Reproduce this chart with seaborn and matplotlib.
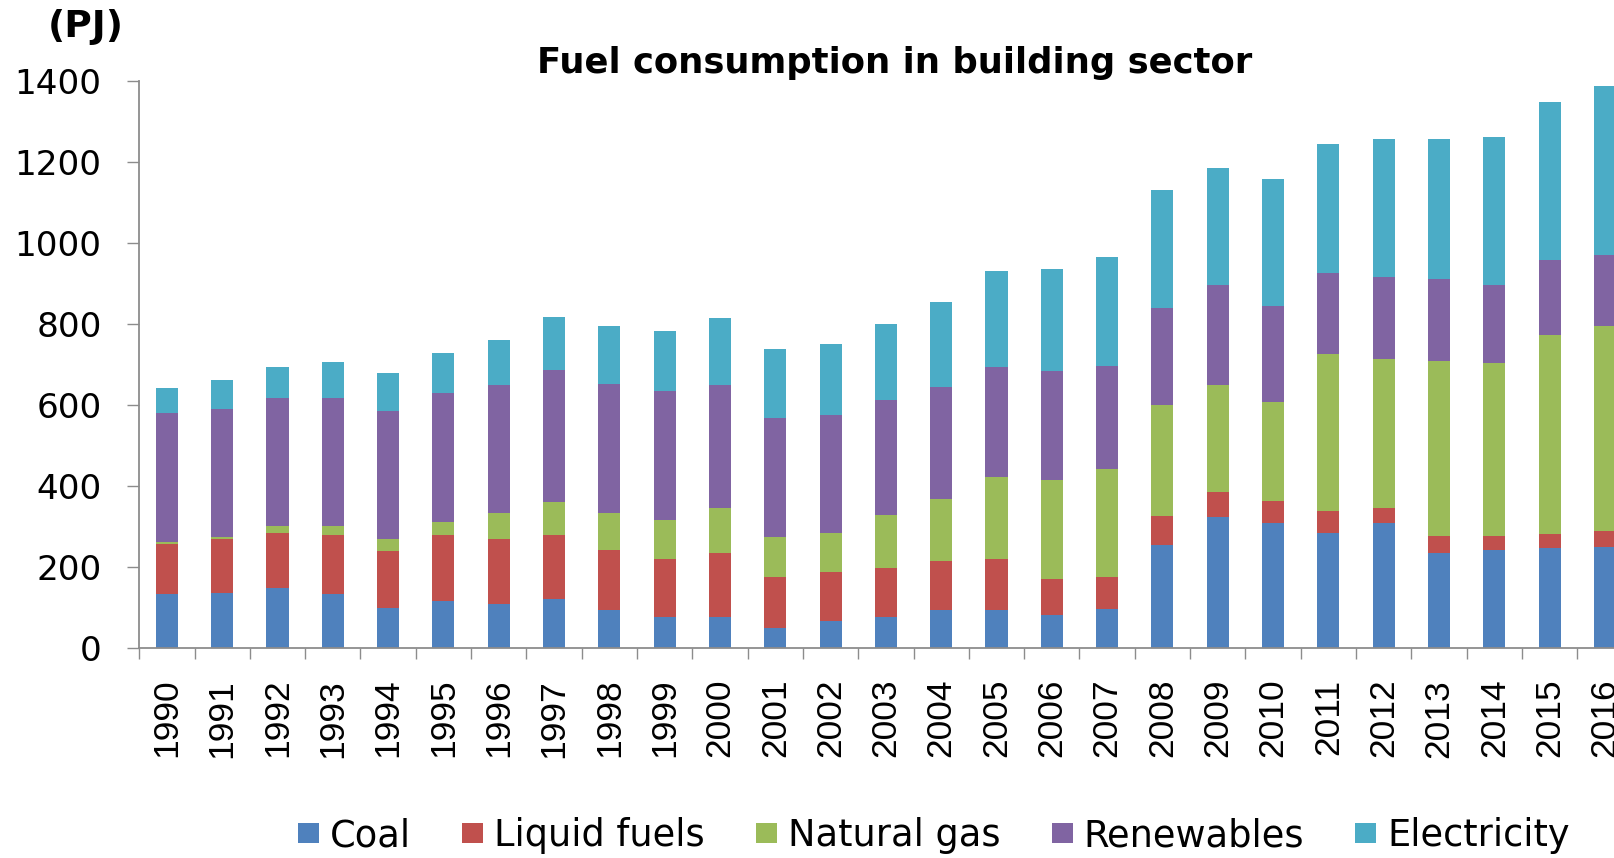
import numpy as np
import pandas as pd
import matplotlib
matplotlib.use("Agg")
import matplotlib.pyplot as plt
from matplotlib.patches import Patch
from matplotlib import font_manager as fm
import seaborn as sns

years = [str(y) for y in range(1990, 2017)]
coal = [135, 137, 150, 135, 100, 117, 110, 122, 95, 77, 77, 51, 67, 77, 95, 95, 82, 98,
        256, 323, 310, 284, 310, 236, 242, 247, 251]
liquid = [123, 133, 135, 145, 140, 163, 160, 158, 148, 144, 158, 125, 121, 121, 121, 126, 89, 77,
          71, 63, 54, 54, 36, 42, 36, 36, 39]
natural_gas = [4, 5, 17, 22, 30, 32, 64, 82, 91, 96, 111, 99, 97, 131, 153, 202, 245, 268,
               274, 265, 243, 389, 369, 432, 427, 491, 506]
renewables = [319, 316, 316, 316, 316, 319, 316, 324, 319, 318, 304, 294, 291, 284, 276, 272, 269, 255,
              240, 245, 238, 200, 203, 202, 191, 186, 176]
electricity = [62, 72, 77, 89, 94, 98, 111, 132, 143, 149, 166, 170, 175, 188, 210, 237, 252, 269,
               291, 290, 314, 319, 340, 346, 367, 390, 417]

series_names = ["Coal", "Liquid fuels", "Natural gas", "Renewables", "Electricity"]
series_vals = [coal, liquid, natural_gas, renewables, electricity]
colors = ["#4F81BD", "#C0504D", "#9BBB59", "#8064A2", "#4BACC6"]
yticks = [0, 200, 400, 600, 800, 1000, 1200, 1400]

sns.set_theme(style="white")
plt.rcParams["font.family"] = ["DejaVu Sans"]
plt.rcParams["text.color"] = "black"

try:
    fm.findfont(fm.FontProperties(family="Liberation Sans Narrow"), fallback_to_default=False)
    xfont, xsize = "Liberation Sans Narrow", 30
except Exception:
    xfont, xsize = "Liberation Sans", 25.5

W, H = 1615, 858
left_px, step_px = 139.2, 55.31
fig = plt.figure(figsize=(W / 100, H / 100), dpi=100)
ax = fig.add_axes([left_px / W, (H - 648.3) / H, 27 * step_px / W, (648.3 - 81.3) / H])

bottom = np.zeros(len(years))
for name, vals, c in zip(series_names, series_vals, colors):
    df = pd.DataFrame({"year": years, "value": vals})
    sns.barplot(data=df, x="year", y="value", color=c, width=0.4, bottom=bottom,
                saturation=1, ax=ax, linewidth=0, edgecolor="none")
    bottom = bottom + np.array(vals)

ax.set_xlim(-0.5, 26.5)
ax.set_ylim(0, 1400)
ax.set_yticks(yticks)
ax.set_yticklabels([str(v) for v in yticks])
ax.set_xlabel("")
ax.set_ylabel("")

axis_col = "#8C8C8C"
for s in ["top", "right"]:
    ax.spines[s].set_visible(False)
for s in ["left", "bottom"]:
    ax.spines[s].set_color(axis_col)
    ax.spines[s].set_linewidth(1.3)

ax.tick_params(axis="y", which="major", direction="out", length=8.6, width=1.0,
               color=axis_col, pad=18.4, labelsize=24.7, labelcolor="black", left=True)
ax.set_xticks(np.arange(-0.5, 27, 1), minor=True)
ax.tick_params(axis="x", which="minor", direction="out", length=8, width=1.0,
               color=axis_col, bottom=True)
ax.tick_params(axis="x", which="major", length=0, pad=22, labelcolor="black", bottom=True)
for lbl in ax.get_xticklabels():
    lbl.set_rotation(90)
    lbl.set_fontfamily(xfont)
    lbl.set_fontsize(xsize)
ax.grid(False)

fig.text(895 / W, (H - 73) / H, "Fuel consumption in building sector", ha="center",
         va="baseline", fontsize=25.5, fontweight="bold", color="black")
fig.text(86 / W, (H - 37) / H, "(PJ)", ha="center", va="baseline", fontsize=27,
         fontweight="bold", color="black")

handles = [Patch(facecolor=c, edgecolor="none", label=n) for n, c in zip(series_names, colors)]
fig.legend(handles=handles, loc="center", bbox_to_anchor=(934 / W, (H - 836) / H), ncol=5,
           frameon=False, fontsize=26.5, handlelength=0.57, handleheight=0.46,
           handletextpad=0.3, columnspacing=1.39, borderaxespad=0, borderpad=0,
           labelcolor="black")

fig.savefig("out.png", dpi=100)
